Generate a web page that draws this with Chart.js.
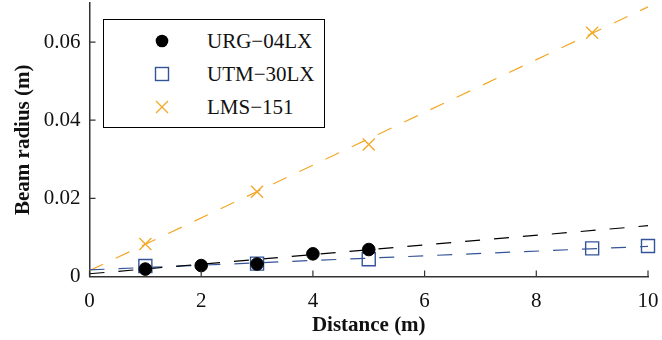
<!DOCTYPE html>
<html>
<head>
<meta charset="utf-8">
<script src="https://cdn.jsdelivr.net/npm/chart.js@4"></script>
<style>
  html, body { margin: 0; padding: 0; background: #fff; }
  #wrap { position: relative; width: 662px; height: 340px; }
  #legend {
    position: absolute; left: 103px; top: 19px; width: 220px; height: 107px;
    border: 1.5px solid #000; background: #fff;
    font-family: "Liberation Serif", "Times New Roman", Tinos, "DejaVu Serif", serif; font-size: 21px; color: #111;
  }
  .item { position: absolute; left: 0; height: 24px; line-height: 24px; }
  .item svg { position: absolute; left: 45px; top: 2px; }
  .item span { position: absolute; left: 103px; white-space: nowrap; }
</style>
</head>
<body>
<div id="wrap">
  <canvas id="c" width="662" height="340"></canvas>
  <div id="legend"></div>
</div>
<script>
const xTicks = [0, 2, 4, 6, 8, 10];
const yTicks = [0, 0.02, 0.04, 0.06];
const yTickLabels = ['0', '0.02', '0.04', '0.06'];

const seriesNames = ['URG−04LX', 'UTM−30LX', 'LMS−151'];
const seriesColors = ['#000000', 'rgb(52,84,152)', 'rgb(243,167,38)'];

const urgDist = [1, 2, 3, 4, 5];
const urgRadius = [0.0019, 0.0028, 0.0032, 0.0058, 0.0069];
const utmDist = [1, 3, 5, 9, 10];
const utmRadius = [0.0027, 0.0033, 0.0044, 0.0072, 0.0078];
const lmsDist = [1, 3, 5, 9];
const lmsRadius = [0.0083, 0.0217, 0.0338, 0.0624];

// fitted lines, read at both ends of the x range
const fitDist = [0, 10];
const urgFit = [0.0007, 0.0130];
const utmFit = [0.0017, 0.0077];
const lmsFit = [0.0015, 0.0690];

const pts = (xs, ys) => xs.map((x, i) => ({x: x, y: ys[i]}));

function fitSet(ys, color) {
    return {
        type: 'line', data: pts(fitDist, ys), borderColor: color, borderWidth: 1.2,
        borderDash: [15, 14], pointRadius: 0, fill: false, clip: false, order: 2
    };
}

const serif = "'Liberation Serif', 'Times New Roman', Tinos, 'DejaVu Serif', serif";

// tick marks drawn inward like the original
const inwardTicks = {
    id: 'inwardTicks',
    afterDraw(chart) {
        const ctx = chart.ctx, a = chart.chartArea;
        const xs = chart.scales.x, ys = chart.scales.y;
        ctx.save();
        ctx.strokeStyle = '#333';
        ctx.lineWidth = 1.2;
        ctx.beginPath();
        xTicks.forEach(v => {
            const px = xs.getPixelForValue(v);
            ctx.moveTo(px, a.bottom); ctx.lineTo(px, a.bottom - 6);
        });
        yTicks.forEach(v => {
            const py = ys.getPixelForValue(v);
            ctx.moveTo(a.left, py); ctx.lineTo(a.left + 6, py);
        });
        ctx.stroke();
        ctx.restore();
    }
};

function noPad(s) {
    s.paddingTop = 0; s.paddingBottom = 0; s.paddingLeft = 0; s.paddingRight = 0;
}

new Chart(document.getElementById('c'), {
    type: 'scatter',
    data: {
        datasets: [
            fitSet(urgFit, seriesColors[0]),
            fitSet(utmFit, seriesColors[1]),
            fitSet(lmsFit, seriesColors[2]),
            {
                label: seriesNames[0], data: pts(urgDist, urgRadius), pointStyle: 'circle',
                pointRadius: 6.3, backgroundColor: seriesColors[0], borderColor: seriesColors[0],
                borderWidth: 1, clip: false, order: 1
            },
            {
                label: seriesNames[1], data: pts(utmDist, utmRadius), pointStyle: 'rect',
                pointRadius: 9.2, backgroundColor: 'rgba(0,0,0,0)', borderColor: seriesColors[1],
                borderWidth: 1.4, clip: false, order: 1
            },
            {
                label: seriesNames[2], data: pts(lmsDist, lmsRadius), pointStyle: 'crossRot',
                pointRadius: 8.5, borderColor: seriesColors[2], borderWidth: 1.3,
                clip: false, order: 1
            }
        ]
    },
    options: {
        responsive: false,
        animation: false,
        layout: { autoPadding: false, padding: { top: 3, right: 14, left: 0, bottom: 0 } },
        plugins: { legend: { display: false }, tooltip: { enabled: false } },
        scales: {
            x: {
                type: 'linear', min: 0, max: 10,
                afterFit: s => { s.height = 63.5; noPad(s); },
                afterBuildTicks: s => { s.ticks = xTicks.map(v => ({value: v})); },
                border: { color: '#333', width: 1.5 },
                grid: { drawOnChartArea: false, drawTicks: false },
                ticks: { padding: 12, color: '#111', font: { family: serif, size: 21 }, maxRotation: 0,
                         callback: v => String(v) },
                title: { display: true, text: 'Distance (m)', color: '#111', padding: { top: 0, bottom: 1.5 },
                         font: { family: serif, size: 21, weight: 'bold' } }
            },
            y: {
                type: 'linear', min: 0, max: 0.07,
                afterFit: s => { s.width = 89.5; noPad(s); },
                afterBuildTicks: s => { s.ticks = yTicks.map(v => ({value: v})); },
                border: { color: '#333', width: 1.5 },
                grid: { drawOnChartArea: false, drawTicks: false },
                ticks: { padding: 9, color: '#111', font: { family: serif, size: 21 },
                         callback: v => yTickLabels[yTicks.indexOf(v)] },
                title: { display: true, text: 'Beam radius (m)', color: '#111', padding: { top: 11, bottom: 0 },
                         font: { family: serif, size: 21, weight: 'bold' } }
            }
        }
    },
    plugins: [inwardTicks]
});

// legend inside the plot, like the original box
const markers = [
    '<svg width="26" height="20"><circle cx="13" cy="10" r="6.3" fill="#000"/></svg>',
    '<svg width="26" height="20"><rect x="6.5" y="3.5" width="13" height="13" fill="none" stroke="rgb(52,84,152)" stroke-width="1.4"/></svg>',
    '<svg width="26" height="20"><path d="M7 4 L19 16 M19 4 L7 16" stroke="rgb(243,167,38)" stroke-width="1.3"/></svg>'
];
const legend = document.getElementById('legend');
const rowTops = [9, 42, 75];
seriesNames.forEach((name, i) => {
    const d = document.createElement('div');
    d.className = 'item';
    d.style.top = rowTops[i] + 'px';
    d.innerHTML = markers[i] + '<span>' + name + '</span>';
    legend.appendChild(d);
});
</script>
</body>
</html>
